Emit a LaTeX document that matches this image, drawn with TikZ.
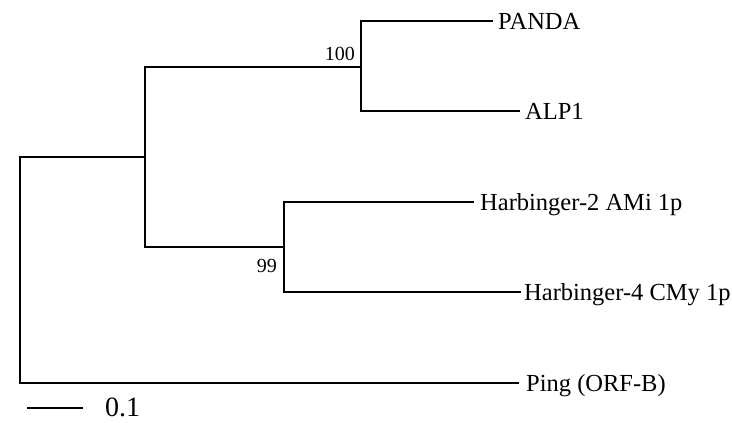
\documentclass[tikz,border=0pt]{standalone}
\usepackage{fontspec}
\setmainfont{Liberation Serif}
\begin{document}
\begin{tikzpicture}[x=1pt,y=-1pt,
  branch/.style={line width=1.1pt, line cap=rect},
  leaf/.style={anchor=base west, inner sep=0pt, font=\fontsize{24.5}{26}\selectfont},
  boot/.style={anchor=base east, inner sep=0pt, font=\fontsize{20}{22}\selectfont},
  scalelab/.style={anchor=base west, inner sep=0pt, font=\fontsize{28}{30}\selectfont}]
\useasboundingbox (0,0) rectangle (732,423);
% internal nodes
\coordinate (rootT) at (20,157);
\coordinate (rootB) at (20,383);
\coordinate (A) at (145,157);
\coordinate (AT) at (145,67);
\coordinate (AB) at (145,247);
\coordinate (B) at (361,67);
\coordinate (BT) at (361,21);
\coordinate (BB) at (361,111);
\coordinate (C) at (284,247);
\coordinate (CT) at (284,202);
\coordinate (CB) at (284,292);
% leaf ends
\coordinate (ePanda) at (492,21);
\coordinate (eAlp) at (519,111);
\coordinate (eH2) at (473,202);
\coordinate (eH4) at (520,292);
\coordinate (ePing) at (518,383);
% branches
\draw[branch] (rootT) -- (rootB);
\draw[branch] (rootT) -- (A);
\draw[branch] (AT) -- (AB);
\draw[branch] (AT) -- (B);
\draw[branch] (BT) -- (BB);
\draw[branch] (BT) -- (ePanda);
\draw[branch] (BB) -- (eAlp);
\draw[branch] (AB) -- (C);
\draw[branch] (CT) -- (CB);
\draw[branch] (CT) -- (eH2);
\draw[branch] (CB) -- (eH4);
\draw[branch] (rootB) -- (ePing);
% leaf labels
\node[leaf] (lPanda) at (498,29.1) {PANDA};
\node[leaf] (lAlp) at (525,119.1) {ALP1};
\node[leaf] (lH2) at (480,210.1) {Harbinger-2 AMi 1p};
\node[leaf] (lH4) at (524,300.1) {Harbinger-4 CMy 1p};
\node[leaf] (lPing) at (526,391.1) {Ping (ORF-B)};
% bootstrap values
\node[boot] (b100) at (355,60) {100};
\node[boot] (b99) at (277,272) {99};
% scale bar
\coordinate (sL) at (27,408);
\coordinate (sR) at (83,408);
\draw[branch, line cap=butt] (sL) -- (sR);
\node[scalelab] (sLab) at (105,416.5) {0.1};
\end{tikzpicture}
\end{document}
